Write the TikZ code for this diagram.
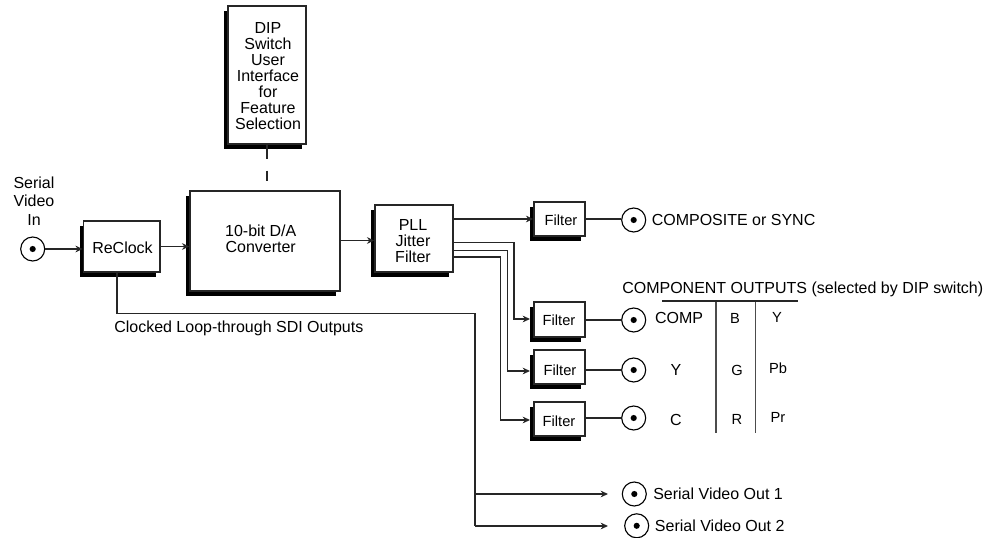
\documentclass[tikz,border=0pt]{standalone}
\usepackage{fontspec}
\setmainfont{Liberation Sans}
\usetikzlibrary{arrows.meta,positioning,calc}
\tikzset{
	block/.style={draw=black!85,line width=1.1pt,fill=white,inner sep=0pt},
	shade/.style={fill=black},
	wire/.style={draw=black!85,line width=0.85pt},
	feed/.style={wire,-{Stealth[length=5.5pt,width=5pt]}},
	jack/.style={circle,draw=black,line width=0.85pt,fill=white,minimum size=18pt,inner sep=0pt},
	pin/.style={circle,fill=black,minimum size=4.6pt,inner sep=0pt},
	tag/.style={inner sep=0pt,align=center,font=\fontsize{12}{12}\selectfont},
	smalltag/.style={tag,font=\fontsize{11}{12}\selectfont},
	rule/.style={draw=black!70,line width=1.1pt}
}
% one box with its offset black shadow and its text
\newcommand{\shadowbox}[8]{%
	\fill[shade] (#2-4,#3+5) rectangle (#4-4,#5+5);
	\node[block,minimum width=#4*0.75pt-#2*0.75pt,minimum height=#5*0.75pt-#3*0.75pt] (#1) at ({(#2+#4)/2},{(#3+#5)/2}) {};
	\node[tag] (#1text) at (#7,#8) {#6};
}
\newcommand{\bnc}[3]{%
	\node[jack] (#1) at (#2,#3) {};
	\node[pin] (#1dot) at (#2,#3) {};
}
\begin{document}
\begin{tikzpicture}[x=0.75pt,y=-0.75pt]
	\useasboundingbox (0,0) rectangle (993,538);

	% blocks
	\shadowbox{dip}{228}{6}{306}{144}{DIP\\Switch\\User\\Interface\\for\\Feature\\Selection}{268}{76}
	\shadowbox{reclock}{83.5}{221}{160}{272}{ReClock}{122.5}{248}
	\shadowbox{dac}{190}{191}{340}{291}{10-bit D/A\\Converter}{260.7}{239}
	\shadowbox{pll}{375}{205}{453}{272}{PLL\\Jitter\\Filter}{413}{240.7}
	\shadowbox{fa}{534}{202}{585}{236}{\fontsize{11}{12}\selectfont Filter}{561}{220}
	\shadowbox{fb}{534}{302}{585}{337}{\fontsize{11}{12}\selectfont Filter}{559}{320.7}
	\shadowbox{fc}{534}{350}{585}{384}{\fontsize{11}{12}\selectfont Filter}{560}{370.7}
	\shadowbox{fd}{534}{402}{585}{436}{\fontsize{11}{12}\selectfont Filter}{559}{421.7}

	% connectors
	\bnc{vin}{32.7}{249}
	\bnc{ja}{633.7}{220}
	\bnc{jb}{633.7}{320}
	\bnc{jc}{633.7}{370}
	\bnc{jd}{633.7}{418}
	\bnc{oa}{634.3}{494}
	\bnc{ob}{636.7}{525.8}

	% labels
	\node[tag] (vinlabel) at (34,201) {Serial\\[2pt]Video\\[2pt]In};
	\node[tag,anchor=west] (loop) at (114,328) {Clocked Loop-through SDI Outputs};
	\node[tag,anchor=west] (ctext) at (651.5,220) {COMPOSITE or SYNC};
	\node[tag,anchor=west] (head) at (622,289) {COMPONENT OUTPUTS (selected by DIP switch)};
	\node[tag,anchor=west] (otexta) at (653,494) {Serial Video Out 1};
	\node[tag,anchor=west] (otextb) at (654.7,526) {Serial Video Out 2};
	\node[tag] (ta) at (679,318) {COMP};
	\node[tag] (tb) at (676,370) {Y};
	\node[tag] (tc) at (676,420) {C};
	\node[smalltag] (tca) at (735,318) {B};
	\node[smalltag] (tcb) at (737,370) {G};
	\node[smalltag] (tcc) at (737,419) {R};
	\node[smalltag] (tda) at (777,317) {Y};
	\node[smalltag] (tdb) at (778,368) {Pb};
	\node[smalltag] (tdc) at (778,417) {Pr};

	% table rules
	\coordinate (ruleL) at (662,301);
	\coordinate (ruleR) at (798,301);
	\coordinate (colAtop) at (716,302);
	\coordinate (colAend) at (716,433);
	\coordinate (colBtop) at (755.7,302);
	\coordinate (colBend) at (755.7,433);
	\draw[wire] (ruleL) -- (ruleR);
	\draw[rule] (colAtop) -- (colAend);
	\draw[rule] (colBtop) -- (colBend);

	% signal path
	\draw[feed] (vin) -- (vin -| reclock.west);
	\draw[feed] (reclock.east) -- (reclock.east -| dac.west);
	\draw[feed] ($(dac.east)+(0,-0.5)$) -- ($(dac.east -| pll.west)+(0,-0.5)$);
	\draw[wire,dash pattern=on 10.5pt off 9pt on 7.5pt off 20pt] (dip.south) -- (dip.south |- dac.north);

	% PLL outputs to filters
	\coordinate (pa) at (453,219);
	\coordinate (pb) at (453,242.7);
	\coordinate (pc) at (453,250.5);
	\coordinate (pd) at (453,257);
	\draw[feed] (pa) -- (pa -| fa.west);
	\draw[feed] (pb) -| (514,319) -- (530,319);
	\draw[feed] (pc) -| (507.7,371) -- (530,371);
	\draw[feed] (pd) -| (500.7,420) -- (530,420);
	\draw[wire] (fa.east) -- (fa.east -| ja.west);
	\draw[wire] (fb.east |- jb) -- (jb);
	\draw[wire] (fc.east |- jc) -- (jc);
	\draw[wire] (fd.east |- jd) -- (jd);

	% loop through
	\coordinate (loopdrop) at (117,272);
	\coordinate (loopa) at (608,494);
	\coordinate (loopb) at (608,526);
	\draw[wire] (loopdrop) |- (475,313.5) -- (475,526);
	\draw[feed] (475,494) -- (loopa);
	\draw[feed] (475,526) -- (loopb);
\end{tikzpicture}
\end{document}
